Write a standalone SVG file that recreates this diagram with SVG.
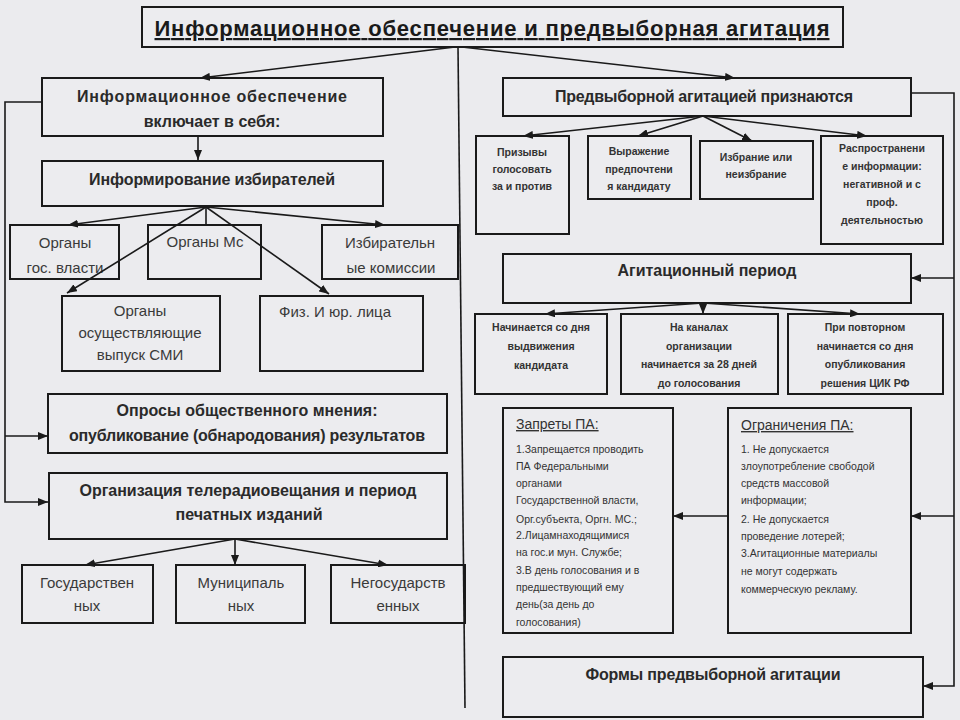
<svg xmlns="http://www.w3.org/2000/svg" width="960" height="720" viewBox="0 0 960 720">
<defs>
<marker id="ah" markerUnits="userSpaceOnUse" markerWidth="10" markerHeight="8" refX="10" refY="4" orient="auto">
<path d="M0,0 L10,4 L0,8 z" fill="#1a1a1a"/>
</marker>
<style>
.box{fill:#ececef;stroke:#1a1a1a;stroke-width:2}
.c{stroke:#1a1a1a;stroke-width:1.6;fill:none}
.a{marker-end:url(#ah)}
text{font-family:"Liberation Sans","DejaVu Sans",sans-serif;text-anchor:middle}
.t{font-size:22px;font-weight:bold;fill:#1a1a1a;text-decoration:underline}
.h{font-size:16px;font-weight:bold;fill:#2a2a2a}
.r{font-size:15px;fill:#3a3a3a}
.s{font-size:10.5px;font-weight:bold;fill:#333}
.p{font-size:10.5px;fill:#333;text-anchor:start}
.ph{font-size:14px;fill:#333;text-anchor:start;text-decoration:underline}
</style>
</defs>
<rect x="0" y="0" width="960" height="720" fill="#ebebee"/>

<g id="title"><rect class="box" x="142" y="7" width="701" height="40"/><text class="t" x="492" y="36" textLength="675">Информационное обеспечение и предвыборная агитация</text></g>

<g id="info"><rect class="box" x="42" y="78" width="341" height="58"/><text class="h" x="212" y="102" textLength="270">Информационное обеспечение</text><text class="h" x="212" y="127">включает  в себя:</text></g>
<g id="inform"><rect class="box" x="42" y="161" width="341" height="45"/><text class="h" x="212" y="185" textLength="246">Информирование избирателей</text></g>
<g id="gos"><rect class="box" x="10" y="225" width="109" height="54"/><text class="r" x="65" y="248">Органы</text><text class="r" x="65" y="273">гос. власти</text></g>
<g id="ms"><rect class="box" x="148" y="225" width="113" height="54"/><text class="r" x="205" y="247">Органы Мс</text></g>
<g id="izbkom"><rect class="box" x="322" y="225" width="136" height="54"/><text class="r" x="390" y="248">Избирательн</text><text class="r" x="391" y="273">ые комиссии</text></g>
<g id="smi"><rect class="box" x="62" y="296" width="158" height="75"/><text class="r" x="140" y="316">Органы</text><text class="r" x="140" y="338">осуществляющие</text><text class="r" x="140" y="360">выпуск СМИ</text></g>
<g id="fiz"><rect class="box" x="260" y="296" width="163" height="75"/><text class="r" x="335" y="317">Физ. И юр. лица</text></g>
<g id="opros"><rect class="box" x="48" y="394" width="399" height="59"/><text class="h" x="247" y="416" textLength="261">Опросы общественного мнения:</text><text class="h" x="247" y="441" textLength="356">опубликование (обнародования) результатов</text></g>
<g id="teleradio"><rect class="box" x="49" y="473" width="398" height="66"/><text class="h" x="248" y="496" textLength="337">Организация телерадиовещания и период</text><text class="h" x="249" y="520">печатных изданий</text></g>
<g id="gosud"><rect class="box" x="22" y="565" width="131" height="58"/><text class="r" x="87" y="588">Государствен</text><text class="r" x="87" y="611">ных</text></g>
<g id="munic"><rect class="box" x="176" y="565" width="129" height="58"/><text class="r" x="241" y="588">Муниципаль</text><text class="r" x="241" y="611">ных</text></g>
<g id="negos"><rect class="box" x="331" y="565" width="134" height="58"/><text class="r" x="398" y="588">Негосударств</text><text class="r" x="398" y="611">енных</text></g>

<g id="predv"><rect class="box" x="503" y="78" width="408" height="38"/><text class="h" x="704" y="102" textLength="298">Предвыборной агитацией признаются</text></g>
<g id="prizyvy"><rect class="box" x="476" y="136" width="93" height="98"/><text class="s" x="522" y="156">Призывы</text><text class="s" x="522" y="173">голосовать</text><text class="s" x="522" y="190">за и против</text></g>
<g id="vyrazh"><rect class="box" x="588" y="136" width="103" height="63"/><text class="s" x="639" y="155">Выражение</text><text class="s" x="639" y="173">предпочтени</text><text class="s" x="639" y="190">я кандидату</text></g>
<g id="izbranie"><rect class="box" x="700" y="141" width="113" height="58"/><text class="s" x="756" y="161">Избрание или</text><text class="s" x="756" y="178">неизбрание</text></g>
<g id="rasprostr"><rect class="box" x="821" y="136" width="122" height="108"/><text class="s" x="882" y="152">Распространени</text><text class="s" x="882" y="170">е информации:</text><text class="s" x="882" y="188">негативной и с</text><text class="s" x="882" y="206">проф.</text><text class="s" x="882" y="224">деятельностью</text></g>

<g id="agit"><rect class="box" x="503" y="254" width="408" height="49"/><text class="h" x="707" y="276" textLength="179">Агитационный период</text></g>
<g id="a1"><rect class="box" x="475" y="314" width="132" height="80"/><text class="s" x="541" y="331">Начинается со дня</text><text class="s" x="541" y="350">выдвижения</text><text class="s" x="541" y="369">кандидата</text></g>
<g id="a2"><rect class="box" x="621" y="314" width="157" height="80"/><text class="s" x="699" y="331">На каналах</text><text class="s" x="699" y="350">организации</text><text class="s" x="699" y="368">начинается за 28 дней</text><text class="s" x="699" y="387">до  голосования</text></g>
<g id="a3"><rect class="box" x="788" y="314" width="155" height="80"/><text class="s" x="865" y="331">При повторном</text><text class="s" x="865" y="350">начинается со дня</text><text class="s" x="865" y="368">опубликования</text><text class="s" x="865" y="387">решения ЦИК РФ</text></g>

<g id="zaprety"><rect class="box" x="503" y="408" width="170" height="225"/>
<text class="ph" x="516" y="429">Запреты ПА:</text>
<text class="p" x="516" y="453">1.Запрещается проводить</text>
<text class="p" x="516" y="470">ПА Федеральными</text>
<text class="p" x="516" y="487">органами</text>
<text class="p" x="516" y="504">Государственной власти,</text>
<text class="p" x="516" y="523">Орг.субъекта, Оргн. МС.;</text>
<text class="p" x="516" y="539">2.Лицамнаходящимися</text>
<text class="p" x="516" y="556">на гос.и мун. Службе;</text>
<text class="p" x="516" y="574">3.В день голосования и в</text>
<text class="p" x="516" y="591">предшествующий ему</text>
<text class="p" x="516" y="608">день(за день до</text>
<text class="p" x="516" y="626">голосования)</text>
</g>
<g id="ogranich"><rect class="box" x="728" y="408" width="183" height="225"/>
<text class="ph" x="741" y="430">Ограничения ПА:</text>
<text class="p" x="741" y="453">1. Не допускается</text>
<text class="p" x="741" y="470">злоупотребление свободой</text>
<text class="p" x="741" y="487">средств массовой</text>
<text class="p" x="741" y="504">информации;</text>
<text class="p" x="741" y="523">2. Не допускается</text>
<text class="p" x="741" y="540">проведение лотерей;</text>
<text class="p" x="741" y="557">3.Агитационные материалы</text>
<text class="p" x="741" y="575">не могут содержать</text>
<text class="p" x="741" y="593">коммерческую рекламу.</text>
</g>
<g id="formy"><rect class="box" x="503" y="657" width="420" height="60"/><text class="h" x="713" y="680" textLength="255">Формы предвыборной агитации</text></g>

<g id="connectors">
<line class="c a" x1="455" y1="47" x2="200" y2="78"/>
<line class="c a" x1="462" y1="47" x2="735" y2="78"/>
<line class="c" x1="458" y1="47" x2="465" y2="708"/>
<line class="c a" x1="198" y1="136" x2="198" y2="160"/>
<path class="c a" d="M42,102 H5 V502 H48"/>
<line class="c a" x1="5" y1="436" x2="48" y2="436"/>
<line class="c a" x1="206" y1="207" x2="68" y2="225"/>
<line class="c" x1="206" y1="207" x2="206" y2="225"/>
<line class="c a" x1="206" y1="207" x2="385" y2="225"/>
<line class="c a" x1="206" y1="207" x2="67" y2="293"/>
<line class="c a" x1="206" y1="207" x2="329" y2="294"/>
<line class="c a" x1="235" y1="539" x2="85" y2="565"/>
<line class="c a" x1="235" y1="539" x2="235" y2="565"/>
<line class="c a" x1="235" y1="539" x2="388" y2="565"/>
<line class="c a" x1="703" y1="116" x2="523" y2="136"/>
<line class="c a" x1="703" y1="116" x2="638" y2="136"/>
<line class="c a" x1="703" y1="116" x2="752" y2="141"/>
<line class="c a" x1="703" y1="116" x2="867" y2="136"/>
<path class="c a" d="M911,93 H954 V686 H923"/>
<line class="c a" x1="954" y1="278" x2="911" y2="278"/>
<line class="c a" x1="954" y1="516" x2="911" y2="516"/>
<line class="c a" x1="703" y1="303" x2="545" y2="314"/>
<line class="c a" x1="703" y1="303" x2="703" y2="314"/>
<line class="c a" x1="703" y1="303" x2="860" y2="314"/>
<line class="c a" x1="728" y1="516" x2="673" y2="516"/>
</g>
</svg>
